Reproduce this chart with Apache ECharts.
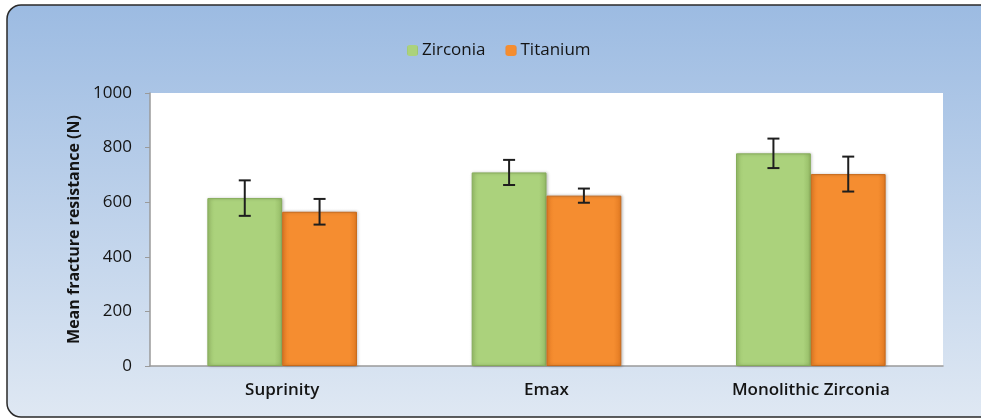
<!DOCTYPE html>
<html lang="en">
<head>
  <meta charset="UTF-8">
  <title>Mean fracture resistance</title>
  <script src="https://cdn.jsdelivr.net/npm/echarts@6/dist/echarts.min.js"></script>
  <style>
    html, body { margin: 0; padding: 0; background: #ffffff; }
    #chart { width: 981px; height: 419px; }
  </style>
</head>
<body>
  <div id="chart"></div>
  <script>
    // data
    const categories = ['Suprinity', 'Emax', 'Monolithic Zirconia'];
    const zirconia = [615, 709, 779];
    const zirconiaErr = [65, 46, 54];
    const titanium = [565, 624, 703];
    const titaniumErr = [47, 26, 64];
    const yTicks = [0, 200, 400, 600, 800, 1000];

    const BAR_PCT = 0.283; // bar width as share of category band
    const font = "'Open Sans', 'Liberation Sans', sans-serif";

    function errorSeries(name, values, errs, side) {
      return {
        type: 'custom',
        name: name + ' err',
        z: 10,
        silent: true,
        data: values.map((v, i) => [i, v - errs[i], v + errs[i]]),
        renderItem: function (params, api) {
          const band = api.size([1, 0])[0];
          const off = side * band * BAR_PCT / 2;
          const lo = api.coord([api.value(0), api.value(1)]);
          const hi = api.coord([api.value(0), api.value(2)]);
          const x = lo[0] + off;
          const cap = 6;
          const style = { stroke: '#1e1e1e', lineWidth: 2 };
          return {
            type: 'group',
            children: [
              { type: 'line', shape: { x1: x, y1: lo[1], x2: x, y2: hi[1] }, style: style },
              { type: 'line', shape: { x1: x - cap, y1: lo[1], x2: x + cap, y2: lo[1] }, style: style },
              { type: 'line', shape: { x1: x - cap, y1: hi[1], x2: x + cap, y2: hi[1] }, style: style }
            ]
          };
        }
      };
    }

    const chart = echarts.init(document.getElementById('chart'));
    chart.setOption({
      animation: false,
      textStyle: { fontFamily: font },
      graphic: [{
        type: 'rect',
        z: -10,
        silent: true,
        shape: { x: 7, y: 5, width: 990, height: 412, r: 14 },
        style: {
          fill: new echarts.graphic.LinearGradient(0, 0, 0, 1, [
            { offset: 0, color: '#9cbbe2' },
            { offset: 1, color: '#dfe8f3' }
          ]),
          stroke: '#2a2a2a',
          lineWidth: 1.5
        }
      }, {
        type: 'rect',
        z: -9,
        silent: true,
        shape: { x: 150, y: 93, width: 793, height: 273 },
        style: { fill: '#ffffff' }
      }],
      legend: {
        top: 37,
        left: 402,
        itemWidth: 11,
        itemHeight: 11,
        itemGap: 20,
        textStyle: { fontSize: 17, color: '#141414', fontFamily: font, padding: [0, 0, 0, -1] },
        itemStyle: { borderWidth: 0 },
        data: ['Zirconia', 'Titanium']
      },
      grid: { left: 150, right: 38, top: 93, bottom: 53 },
      xAxis: {
        type: 'category',
        data: categories,
        axisLine: { lineStyle: { color: '#9a9a9a', width: 1.5 } },
        axisTick: { show: false },
        axisLabel: { fontSize: 17, fontWeight: 600, color: '#141414', margin: 16 }
      },
      yAxis: {
        type: 'value',
        min: 0,
        max: 1000,
        interval: 200,
        name: 'Mean fracture resistance (N)',
        nameLocation: 'middle',
        nameGap: 67,
        nameTextStyle: { fontSize: 16, fontWeight: 'bold', color: '#141414' },
        splitLine: { show: false },
        axisLine: { show: true, lineStyle: { color: '#9a9a9a', width: 1.5 } },
        axisTick: { show: true, length: 5, lineStyle: { color: '#9a9a9a' } },
        axisLabel: {
          fontSize: 17,
          color: '#141414',
          margin: 18,
          formatter: v => yTicks.indexOf(v) >= 0 ? String(v) : ''
        }
      },
      series: [{
        name: 'Zirconia',
        type: 'bar',
        barWidth: (BAR_PCT * 100) + '%',
        barGap: '0%',
        data: zirconia,
        itemStyle: {
          color: new echarts.graphic.LinearGradient(0, 0, 1, 0, [
            { offset: 0, color: '#9fc66f' },
            { offset: 0.1, color: '#abd27c' },
            { offset: 0.9, color: '#abd27c' },
            { offset: 1, color: '#95bb66' }
          ]),
          borderColor: '#86ad5a',
          borderWidth: 1,
          shadowColor: 'rgba(0,0,0,0.25)',
          shadowBlur: 3,
          shadowOffsetX: 1
        }
      }, {
        name: 'Titanium',
        type: 'bar',
        barWidth: (BAR_PCT * 100) + '%',
        barGap: '0%',
        data: titanium,
        itemStyle: {
          color: new echarts.graphic.LinearGradient(0, 0, 1, 0, [
            { offset: 0, color: '#ec8228' },
            { offset: 0.1, color: '#f58d30' },
            { offset: 0.9, color: '#f58d30' },
            { offset: 1, color: '#e27a22' }
          ]),
          borderColor: '#c96a1a',
          borderWidth: 1,
          shadowColor: 'rgba(0,0,0,0.25)',
          shadowBlur: 3,
          shadowOffsetX: 1
        }
      },
      errorSeries('Zirconia', zirconia, zirconiaErr, -1),
      errorSeries('Titanium', titanium, titaniumErr, 1)
      ]
    });
  </script>
</body>
</html>
